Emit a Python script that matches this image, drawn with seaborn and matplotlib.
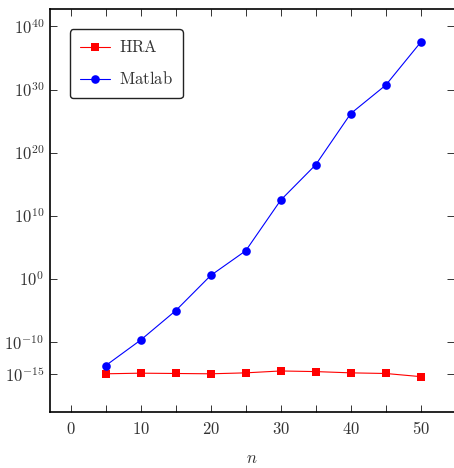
import numpy as np
import pandas as pd
import matplotlib
matplotlib.use("Agg")
import matplotlib.pyplot as plt
import seaborn as sns
from matplotlib.lines import Line2D

n_values = [5, 10, 15, 20, 25, 30, 35, 40, 45, 50]
hra_log10 = [-15.0, -14.9, -14.95, -15.0, -14.85, -14.55, -14.65, -14.85, -14.95, -15.45]
matlab_log10 = [-13.7, -9.65, -5.0, 0.57, 4.48, 12.5, 18.1, 26.2, 30.7, 37.5]
series_names = ["HRA", "Matlab"]
ytick_exps = [-15, -10, 0, 10, 20, 30, 40]
xtick_vals = [0, 10, 20, 30, 40, 50]

df = pd.DataFrame({
    "n": n_values * 2,
    "err": [10.0 ** v for v in hra_log10] + [10.0 ** v for v in matlab_log10],
    "method": [series_names[0]] * len(n_values) + [series_names[1]] * len(n_values),
})

sns.set_style("ticks")
plt.rcParams["mathtext.fontset"] = "cm"
plt.rcParams["font.family"] = ["DejaVu Serif"]

fig = plt.figure(figsize=(4.54, 4.68), dpi=100)
ax = fig.add_axes([0.1095, 0.1203, 0.8905, 0.8597])

sns.lineplot(data=df, x="n", y="err", hue="method", style="method",
             palette={"HRA": "#ff0000", "Matlab": "#0000ff"},
             markers={"HRA": "s", "Matlab": "o"},
             dashes=False, markersize=6.2, markeredgewidth=0, linewidth=0.8,
             ax=ax, legend=False)
ax.set_yscale("log")
ax.set_xlim(-3, 54.75)
ax.set_ylim(10 ** -21, 10 ** 42.7)

ax.set_yticks([10.0 ** e for e in ytick_exps])
ax.set_yticklabels([r"$10^{%d}$" % e for e in ytick_exps])
ax.yaxis.set_minor_locator(matplotlib.ticker.NullLocator())
xt = list(range(0, 51, 5))
ax.set_xticks(xt)
ax.set_xticklabels([r"$%d$" % v if v in xtick_vals else "" for v in xt])

ax.tick_params(direction="in", top=True, right=True, length=5, width=0.7,
               labelsize=12, colors="#333333", labelcolor="#333333")
ax.tick_params(axis="y", pad=4)
ax.tick_params(axis="x", pad=7)
ax.spines["right"].set_visible(False)
for s in ["left", "bottom", "top"]:
    ax.spines[s].set_linewidth(1.2)
    ax.spines[s].set_color("black")

ax.set_xlabel(r"$n$", fontsize=12, color="#333333", labelpad=8)
ax.set_ylabel("")

handles = [
    Line2D([], [], color="#ff0000", marker="s", markersize=6.2, markeredgewidth=0, linewidth=0.8),
    Line2D([], [], color="#0000ff", marker="o", markersize=6.2, markeredgewidth=0, linewidth=0.8),
]
leg = ax.legend(handles, [r"$\mathrm{HRA}$", r"$\mathrm{Matlab}$"],
                loc="upper left", bbox_to_anchor=(0.05, 0.95), borderaxespad=0,
                fontsize=12, frameon=True, fancybox=True, edgecolor="#222222", framealpha=1,
                handlelength=1.8, labelspacing=0.9, borderpad=0.6, handletextpad=0.55)
leg.get_frame().set_linewidth(1.0)
for t in leg.get_texts():
    t.set_color("#333333")

fig.savefig("out.png", dpi=100)
